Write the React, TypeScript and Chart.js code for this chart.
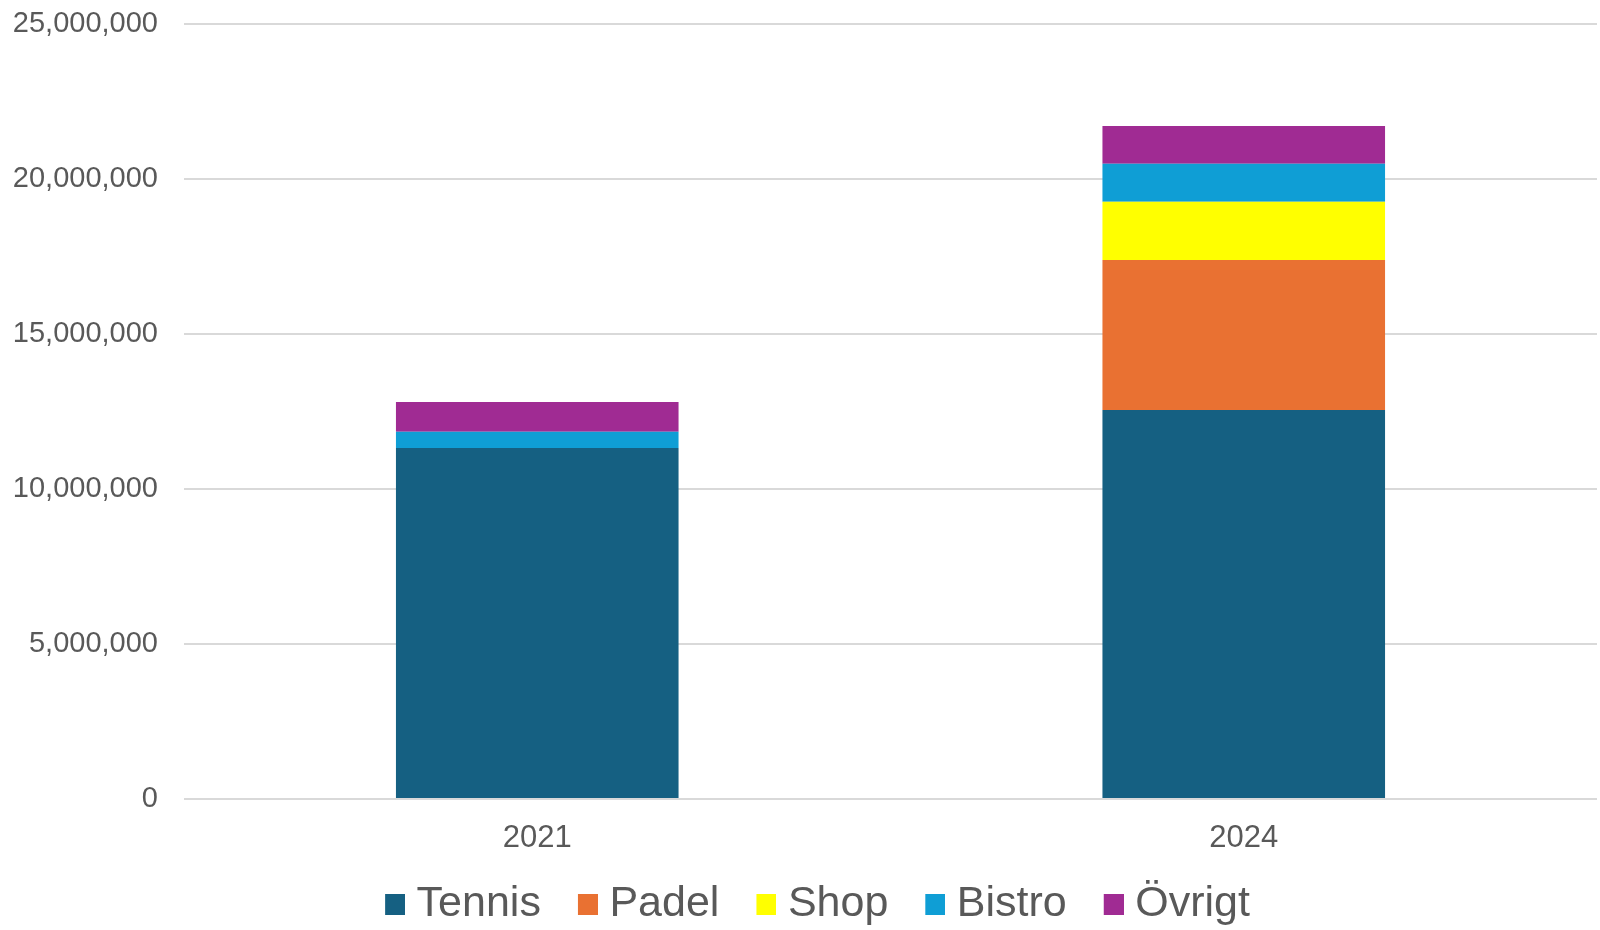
import React, { useEffect, useRef } from "react";
import { Chart, registerables } from "chart.js";

Chart.register(...registerables);

const categories = ["2021", "2024"];
const seriesNames = ["Tennis", "Padel", "Shop", "Bistro", "Övrigt"];
const tennis = [11320000, 12550000];
const padel = [0, 4840000];
const shop = [0, 1880000];
const bistro = [530000, 1220000];
const ovrigt = [960000, 1220000];
const seriesColors = ["#156082", "#E97132", "#FFFF00", "#0F9ED5", "#A02B93"];
const yTicks = [0, 5000000, 10000000, 15000000, 20000000, 25000000];

function makeSwatch(color: string): HTMLCanvasElement {
  const c = document.createElement("canvas");
  c.width = 40;
  c.height = 21;
  const ctx = c.getContext("2d");
  if (ctx) {
    ctx.fillStyle = color;
    ctx.fillRect(20, 0, 20, 21);
  }
  return c;
}

const unclipPlugin = {
  id: "unclipYLabels",
  afterLayout(chart: any) {
    if (chart.scales && chart.scales.y) chart.scales.y.left = 0;
  },
};

export default function App() {
  const ref = useRef<HTMLCanvasElement | null>(null);

  useEffect(() => {
    document.body.style.margin = "0";
    const canvas = ref.current;
    if (!canvas) return;
    const values = [tennis, padel, shop, bistro, ovrigt];
    const swatches = seriesColors.map(makeSwatch);
    const font = "'Liberation Sans', Arial, sans-serif";
    const chart = new Chart(canvas, {
      type: "bar",
      plugins: [unclipPlugin],
      data: {
        labels: categories,
        datasets: seriesNames.map((name, i) => ({
          label: name,
          data: values[i],
          backgroundColor: seriesColors[i],
          borderWidth: 0,
          categoryPercentage: 1,
          barPercentage: 0.4,
        })),
      },
      options: {
        responsive: false,
        animation: false,
        layout: { padding: { top: 24, right: 3, left: 28, bottom: 0 } },
        plugins: {
          tooltip: { enabled: false },
          legend: {
            position: "bottom",
            maxHeight: 74,
            labels: {
              color: "#595959",
              font: { family: font, size: 43 },
              usePointStyle: true,
              boxWidth: 20,
              boxHeight: 20,
              padding: 27,
              generateLabels: (ch: any) =>
                ch.data.datasets.map((ds: any, i: number) => ({
                  text: ds.label,
                  fillStyle: seriesColors[i],
                  strokeStyle: seriesColors[i],
                  lineWidth: 0,
                  fontColor: "#595959",
                  hidden: !ch.isDatasetVisible(i),
                  datasetIndex: i,
                  pointStyle: swatches[i],
                })),
            },
          },
        },
        scales: {
          x: {
            stacked: true,
            grid: { display: false, drawTicks: false },
            border: { display: false },
            ticks: {
              color: "#595959",
              font: { family: font, size: 31 },
              padding: 21,
            },
            afterFit: (s: any) => {
              s.height = 57;
            },
          },
          y: {
            stacked: true,
            min: 0,
            max: 25000000,
            afterBuildTicks: (s: any) => {
              s.ticks = yTicks.map((v) => ({ value: v }));
            },
            grid: { color: "#D9D9D9", lineWidth: 2, drawTicks: false },
            border: { display: false },
            ticks: {
              color: "#595959",
              font: { family: font, size: 29 },
              padding: 26,
              callback: (v: any) => Number(v).toLocaleString("en-US"),
            },
            afterFit: (s: any) => {
              s.width = 156;
              s.paddingTop = 0;
              s.paddingBottom = 0;
            },
          },
        },
      },
    });
    return () => chart.destroy();
  }, []);

  return (
    <div style={{ width: 1600, height: 930 }}>
      <canvas ref={ref} width={1600} height={930} style={{ display: "block" }} />
    </div>
  );
}
